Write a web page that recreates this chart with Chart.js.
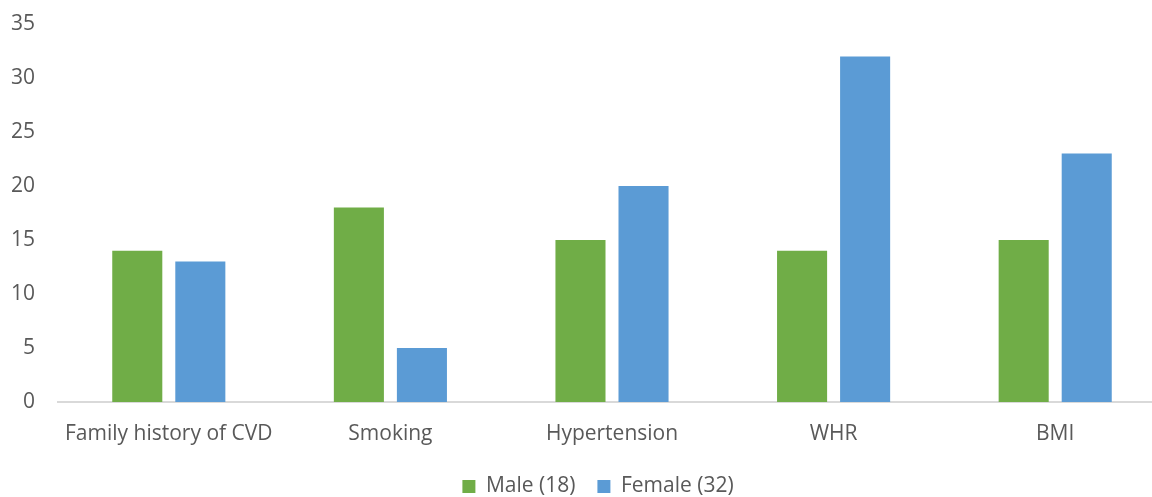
<!DOCTYPE html>
<html>
<head>
<meta charset="utf-8">
<script src="https://cdn.jsdelivr.net/npm/chart.js@4.4.1/dist/chart.umd.min.js"></script>
<style>
  html, body { margin: 0; padding: 0; background: #ffffff; overflow: hidden; }
  #wrap { position: relative; width: 1196px; height: 497px; }
</style>
</head>
<body>
<div id="wrap"><canvas id="chart" width="1196" height="497"></canvas></div>
<script>
// Risk factors by sex
const categories = ['Family history of CVD', 'Smoking', 'Hypertension', 'WHR', 'BMI'];
const seriesNames = ['Male (18)', 'Female (32)'];
const maleValues = [14, 18, 15, 14, 15];
const femaleValues = [13, 5, 20, 32, 23];
const yTicks = [0, 5, 10, 15, 20, 25, 30, 35];

const textColor = '#595959';
const fontFamily = '"Open Sans", Lato, "DejaVu Sans", sans-serif';
const fontSize = 21;

// Centre the legend on the whole canvas rather than the padded area
const legendShift = {
  id: 'legendShift',
  afterLayout(chart) {
    if (chart.legend) {
      chart.legend.left += 10;
      chart.legend.right += 10;
    }
  }
};

new Chart(document.getElementById('chart'), {
  type: 'bar',
  plugins: [legendShift],
  data: {
    labels: categories,
    datasets: [
      {
        label: seriesNames[0],
        data: maleValues,
        backgroundColor: '#70AD47',
        borderWidth: 0,
        barPercentage: 0.794,
        categoryPercentage: 0.569
      },
      {
        label: seriesNames[1],
        data: femaleValues,
        backgroundColor: '#5B9BD5',
        borderWidth: 0,
        barPercentage: 0.794,
        categoryPercentage: 0.569
      }
    ]
  },
  options: {
    responsive: false,
    animation: false,
    layout: { padding: { top: 24, left: 10, right: 30, bottom: -10 } },
    plugins: {
      tooltip: { enabled: false },
      legend: {
        position: 'bottom',
        labels: {
          color: textColor,
          font: { family: fontFamily, size: fontSize },
          boxWidth: 13,
          boxHeight: 13,
          padding: 22
        }
      }
    },
    scales: {
      x: {
        grid: { display: false, drawTicks: false },
        border: { display: true, color: '#d9d9d9', width: 2 },
        ticks: {
          color: textColor,
          font: { family: fontFamily, size: fontSize },
          padding: 19,
          maxRotation: 0
        },
        afterFit(scale) { scale.height = 52; }
      },
      y: {
        min: 0,
        max: 35,
        grid: { display: false, drawTicks: false },
        border: { display: false },
        afterBuildTicks(scale) { scale.ticks = yTicks.map(v => ({ value: v })); },
        ticks: {
          color: textColor,
          font: { family: fontFamily, size: fontSize },
          padding: 23
        },
        afterFit(scale) {
          scale.width = 48;
          scale.paddingTop = 0;
          scale.paddingBottom = 0;
        }
      }
    }
  }
});
</script>
</body>
</html>
